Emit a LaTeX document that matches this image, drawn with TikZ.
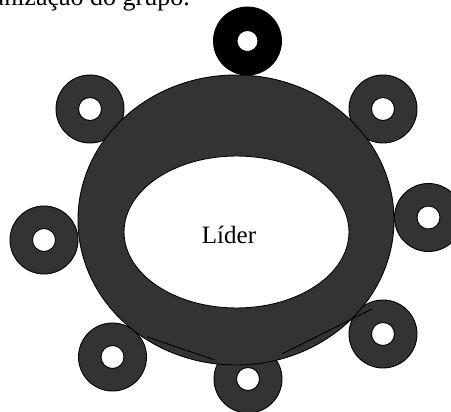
\documentclass[tikz,border=0pt]{standalone}
\usepackage{fontspec}
\setmainfont{Liberation Serif}
\usepackage{tikz}
\usetikzlibrary{shapes.geometric}
\usepackage{xcolor}
\definecolor{ringGray}{HTML}{333333}

\begin{document}
\begin{tikzpicture}[
    x=1pt, y=-1pt,
    ringDisc/.style={circle, draw=black, line width=0.9pt, fill=ringGray, minimum size=68pt, inner sep=0pt},
    ringHole/.style={circle, draw=black, line width=0.9pt, fill=white, minimum size=23pt, inner sep=0pt},
    groupOval/.style={ellipse, draw=black, line width=0.9pt, inner sep=0pt}
]
    \clip (0,0) rectangle (451,412);

    \node[anchor=base east, inner sep=0pt, font=\fontsize{26}{30}\selectfont] (caption) at (190,6) {organização do grupo.};

    % members round the group
    \node[ringDisc, fill=black] (top) at (247.5,41) {};
    \node[ringHole, minimum size=21pt] at (top) {};
    \foreach \ringName/\px/\py in {topLeft/90/109, topRight/383/109, right/428.5/217.5, left/44/240,
        bottomLeft/112.5/357, bottom/248/379, bottomRight/383/334} {
        \node[ringDisc] (\ringName) at (\px,\py) {};
        \node[ringHole] at (\ringName) {};
    }

    \node[groupOval, fill=ringGray, minimum width=316pt, minimum height=290pt] (group) at (236,220) {};
    \node[groupOval, fill=white, minimum width=225pt, minimum height=152pt] (leader) at (236.5,232) {};
    \node[anchor=base, inner sep=0pt, font=\fontsize{25}{30}\selectfont] (leaderLabel) at (229,244) {Líder};

    \draw[line width=0.9pt] (147,337) -- (215,360);
    \draw[line width=0.9pt] (282,354) -- (372,309);
\end{tikzpicture}
\end{document}
